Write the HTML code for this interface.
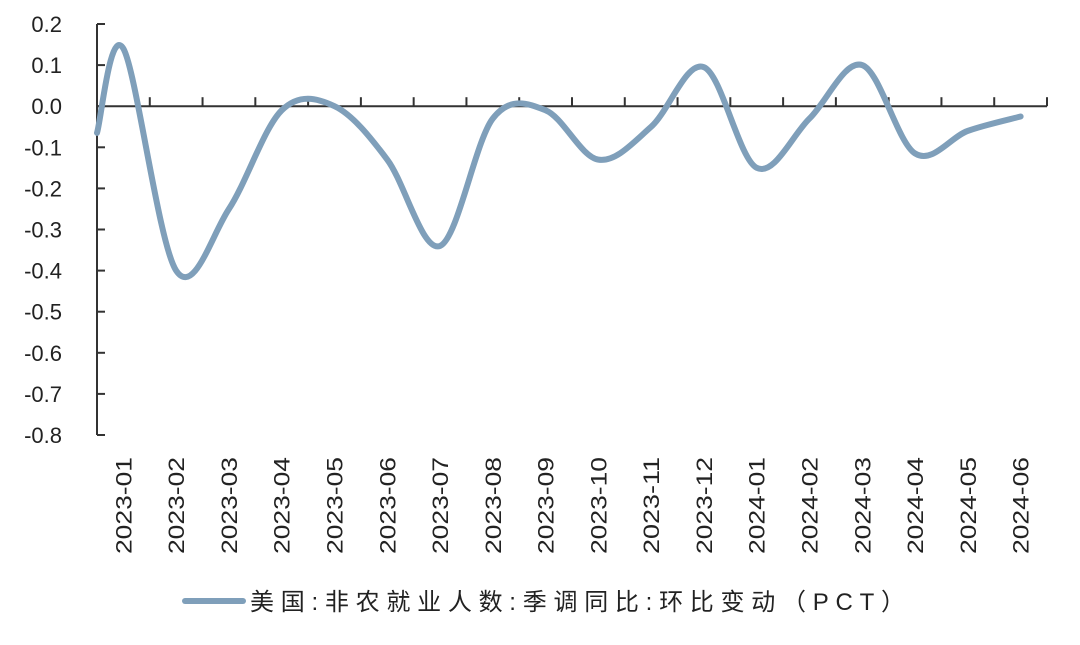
<!DOCTYPE html>
<html><head><meta charset="utf-8"><style>
body{margin:0;background:#fff;}
svg text{font-family:"Liberation Sans","Noto Sans CJK SC",sans-serif;fill:#222;}
</style></head><body>
<svg width="1080" height="640" viewBox="0 0 1080 640">
<g id="axes"></g>
<path id="line" fill="none" stroke="#7f9fba" stroke-width="6" stroke-linecap="round"/>
<g>
<line x1="185" y1="601" x2="243" y2="601" stroke="#7f9fba" stroke-width="6" stroke-linecap="round"/>
<text x="250" y="610" font-size="24" textLength="655" lengthAdjust="spacing">美国:非农就业人数:季调同比:环比变动（PCT）</text>
</g>
</svg>
<script>
const categories=["2023-01","2023-02","2023-03","2023-04","2023-05","2023-06","2023-07","2023-08","2023-09","2023-10","2023-11","2023-12","2024-01","2024-02","2024-03","2024-04","2024-05","2024-06"];
const values=[0.14,-0.40,-0.25,-0.01,0.0,-0.13,-0.34,-0.03,-0.01,-0.13,-0.05,0.095,-0.15,-0.03,0.10,-0.115,-0.06,-0.025];
const startValue=-0.065;
const yTicks=[0.2,0.1,0.0,-0.1,-0.2,-0.3,-0.4,-0.5,-0.6,-0.7,-0.8];
const X0=97,X1=1047,Y0=24,Y1=435,YMAX=0.2,YMIN=-0.8;
const step=(X1-X0)/categories.length;
const xs=i=>X0+step*(i+0.5);
const ys=v=>Y0+(YMAX-v)/(YMAX-YMIN)*(Y1-Y0);
const NS="http://www.w3.org/2000/svg";
const ax=document.getElementById('axes');
function mk(t,a){const e=document.createElementNS(NS,t);for(const k in a)e.setAttribute(k,a[k]);ax.appendChild(e);return e;}
let e=mk('line',{x1:X0,y1:Y0,x2:X0,y2:Y1,stroke:'#333','stroke-width':2});


yTicks.forEach(v=>{
 const y=ys(v);
 let t=mk('line',{x1:X0,y1:y,x2:X0+8,y2:y,stroke:'#333','stroke-width':2});
 
 
 let l=mk('text',{x:X0-35,y:y+8,'font-size':22,'text-anchor':'end'});
 l.textContent=v.toFixed(1);
 
 
});
const y0=ys(0);
e=mk('line',{x1:X0,y1:y0,x2:X1,y2:y0,stroke:'#333','stroke-width':2});


for(let i=1;i<=categories.length;i++){
 let t=mk('line',{x1:X0+step*i,y1:y0,x2:X0+step*i,y2:y0-9,stroke:'#333','stroke-width':2});
 
 
}
categories.forEach((c,i)=>{
 const x=xs(i)+8;
 let l=mk('text',{x:x,y:457,'font-size':22,'text-anchor':'end',textLength:97,lengthAdjust:'spacingAndGlyphs',transform:`rotate(-90 ${x} 457)`});
 l.textContent=c;
 
 
});
const pts=[[X0,ys(startValue)]].concat(values.map((v,i)=>[xs(i),ys(v)]));
let d=`M${pts[0][0]},${pts[0][1]}`;
for(let i=0;i<pts.length-1;i++){
 const p0=pts[Math.max(0,i-1)],p1=pts[i],p2=pts[i+1],p3=pts[Math.min(pts.length-1,i+2)];
 const c1=[p1[0]+(p2[0]-p0[0])/6,p1[1]+(p2[1]-p0[1])/6];
 const c2=[p2[0]-(p3[0]-p1[0])/6,p2[1]-(p3[1]-p1[1])/6];
 d+=` C${c1[0]},${c1[1]} ${c2[0]},${c2[1]} ${p2[0]},${p2[1]}`;
}
document.getElementById('line').setAttribute('d',d);
</script>
</body></html>
